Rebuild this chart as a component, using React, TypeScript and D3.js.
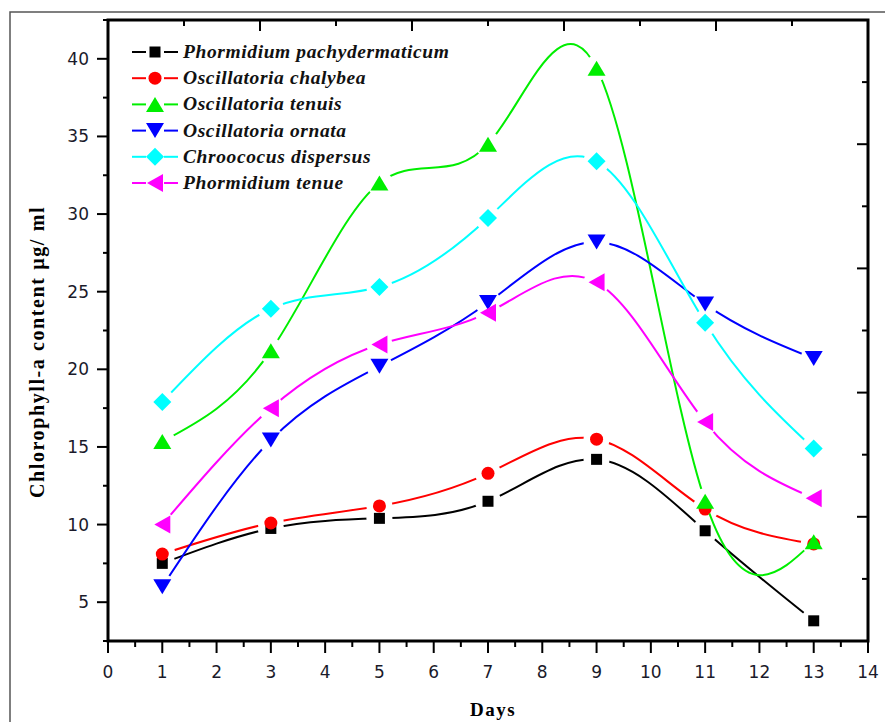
import React from "react";
import * as d3 from "d3";

// sampling days
const days = [1, 3, 5, 7, 9, 11, 13];

// chlorophyll-a content (µg/ml) per species
const names = [
  "Phormidium pachydermaticum",
  "Oscillatoria chalybea",
  "Oscillatoria tenuis",
  "Oscillatoria ornata",
  "Chroococus dispersus",
  "Phormidium tenue",
];
const pachydermaticum = [7.5, 9.75, 10.4, 11.5, 14.2, 9.6, 3.8];
const chalybea = [8.1, 10.1, 11.2, 13.3, 15.5, 11.0, 8.75];
const tenuis = [15.35, 21.2, 32.0, 34.5, 39.4, 11.5, 8.9];
const ornata = [6.0, 15.45, 20.2, 24.3, 28.2, 24.2, 20.7];
const dispersus = [17.9, 23.9, 25.3, 29.75, 33.4, 23.0, 14.9];
const tenue = [10.0, 17.5, 21.6, 23.65, 25.6, 16.6, 11.7];

const colors = ["#000000", "#ff0000", "#00ee00", "#0000ff", "#00ffff", "#ff00ff"];
const shapes = ["square", "circle", "up", "down", "diamond", "left"];

const xTicks = d3.range(0, 15);
const yTicks = [5, 10, 15, 20, 25, 30, 35, 40];

const W = 885;
const H = 722;
const PL = 108, PR = 868, PT = 20, PB = 641;

function markerPath(shape: string) {
  switch (shape) {
    case "square":
      return "M-5.5,-5.5h11v11h-11Z";
    case "circle":
      return "M-6.5,0a6.5,6.5 0 1,0 13,0a6.5,6.5 0 1,0 -13,0Z";
    case "up":
      return "M0,-7.5L9,7.5L-9,7.5Z";
    case "down":
      return "M0,7.5L9,-7.5L-9,-7.5Z";
    case "diamond":
      return "M0,-9L9,0L0,9L-9,0Z";
    default:
      return "M-8,0L8,-9L8,9Z";
  }
}

export default function App() {
  const x = d3.scaleLinear().domain([0, 14]).range([PL, PR]);
  const y = d3.scaleLinear().domain([2.5, 42.5]).range([PB, PT]);
  const series = [pachydermaticum, chalybea, tenuis, ornata, dispersus, tenue];

  const line = d3
    .line<number>()
    .x((_, i) => x(days[i]))
    .y((d) => y(d))
    .curve(d3.curveNatural);

  const xMinor = d3.range(0.5, 14, 1);
  const yMinor = d3.range(2.5, 43, 5);
  // opposite axes: 5 unlabelled intervals
  const topMaj = d3.range(1, 5).map((k) => PL + (k * (PR - PL)) / 5);
  const topMin = d3.range(0, 5).map((k) => PL + ((k + 0.5) * (PR - PL)) / 5);
  const rightMaj = d3.range(1, 5).map((k) => PT + (k * (PB - PT)) / 5);
  const rightMin = d3.range(0, 5).map((k) => PT + ((k + 0.5) * (PB - PT)) / 5);

  const tickFont = "'DejaVu Sans', sans-serif";
  const serif = "'Liberation Serif', 'Times New Roman', serif";

  return (
    <svg
      width={W}
      height={H}
      style={{ position: "absolute", left: 0, top: 0, background: "#fff" }}
    >
      <defs>
        {series.map((vals, i) => (
          <mask id={`gap${i}`} key={i} maskUnits="userSpaceOnUse" x={0} y={0} width={W} height={H}>
            <rect x={0} y={0} width={W} height={H} fill="#fff" />
            {vals.map((v, j) => (
              <circle key={j} cx={x(days[j])} cy={y(v)} r={13} fill="#000" />
            ))}
          </mask>
        ))}
      </defs>

      {/* outer frame */}
      <rect x={10} y={12} width={900} height={740} fill="none" stroke="#555" strokeWidth={1.5} />

      {/* series */}
      {series.map((vals, i) => (
        <g key={i}>
          <path
            d={line(vals) || ""}
            fill="none"
            stroke={colors[i]}
            strokeWidth={2}
            mask={`url(#gap${i})`}
          />
          {vals.map((v, j) => (
            <path
              key={j}
              d={markerPath(shapes[i])}
              transform={`translate(${x(days[j])},${y(v)})`}
              fill={colors[i]}
            />
          ))}
        </g>
      ))}

      {/* plot frame */}
      <rect x={PL} y={PT} width={PR - PL} height={PB - PT} fill="none" stroke="#000" strokeWidth={3} />

      {/* bottom axis */}
      {xTicks.map((t) => (
        <g key={t}>
          <line x1={x(t)} x2={x(t)} y1={PB} y2={PB + 12} stroke="#000" strokeWidth={2} />
          <text x={x(t)} y={678} textAnchor="middle" fontFamily={tickFont} fontSize={17} fill="#1a1a2a">
            {t}
          </text>
        </g>
      ))}
      {xMinor.map((t) => (
        <line key={t} x1={x(t)} x2={x(t)} y1={PB} y2={PB + 6} stroke="#000" strokeWidth={2} />
      ))}

      {/* left axis */}
      {yTicks.map((t) => (
        <g key={t}>
          <line x1={PL - 11} x2={PL} y1={y(t)} y2={y(t)} stroke="#000" strokeWidth={2} />
          <text x={89} y={y(t) + 6} textAnchor="end" fontFamily={tickFont} fontSize={17} fill="#1a1a2a">
            {t}
          </text>
        </g>
      ))}
      {yMinor.map((t) => (
        <line key={t} x1={PL - 5} x2={PL} y1={y(t)} y2={y(t)} stroke="#000" strokeWidth={2} />
      ))}

      {/* top and right axes, ticks inward */}
      {topMaj.map((px) => (
        <line key={`tM${px}`} x1={px} x2={px} y1={PT} y2={PT + 11} stroke="#000" strokeWidth={2} />
      ))}
      {topMin.map((px) => (
        <line key={`tm${px}`} x1={px} x2={px} y1={PT} y2={PT + 6} stroke="#000" strokeWidth={2} />
      ))}
      {rightMaj.map((py) => (
        <line key={`rM${py}`} x1={PR - 11} x2={PR} y1={py} y2={py} stroke="#000" strokeWidth={2} />
      ))}
      {rightMin.map((py) => (
        <line key={`rm${py}`} x1={PR - 6} x2={PR} y1={py} y2={py} stroke="#000" strokeWidth={2} />
      ))}

      {/* axis titles */}
      <text
        transform="translate(44,352) rotate(-90)"
        textAnchor="middle"
        fontFamily={serif}
        fontWeight="bold"
        fontSize={20}
        letterSpacing={1.6}
      >
        Chlorophyll-a content µg/ ml
      </text>
      <text x={493} y={716} textAnchor="middle" fontFamily={serif} fontWeight="bold" fontSize={19} letterSpacing={1.5}>
        Days
      </text>

      {/* legend */}
      {names.map((n, i) => {
        const cy = 52 + i * 26.2;
        return (
          <g key={n}>
            <line x1={132} x2={146} y1={cy} y2={cy} stroke={colors[i]} strokeWidth={2} />
            <line x1={164} x2={178} y1={cy} y2={cy} stroke={colors[i]} strokeWidth={2} />
            <path d={markerPath(shapes[i])} transform={`translate(155,${cy})`} fill={colors[i]} />
            <text
              x={183}
              y={cy + 6}
              fontFamily={serif}
              fontStyle="italic"
              fontWeight="bold"
              fontSize={19.5}
              letterSpacing={0.6}
              fill="#111"
            >
              {n}
            </text>
          </g>
        );
      })}
    </svg>
  );
}
